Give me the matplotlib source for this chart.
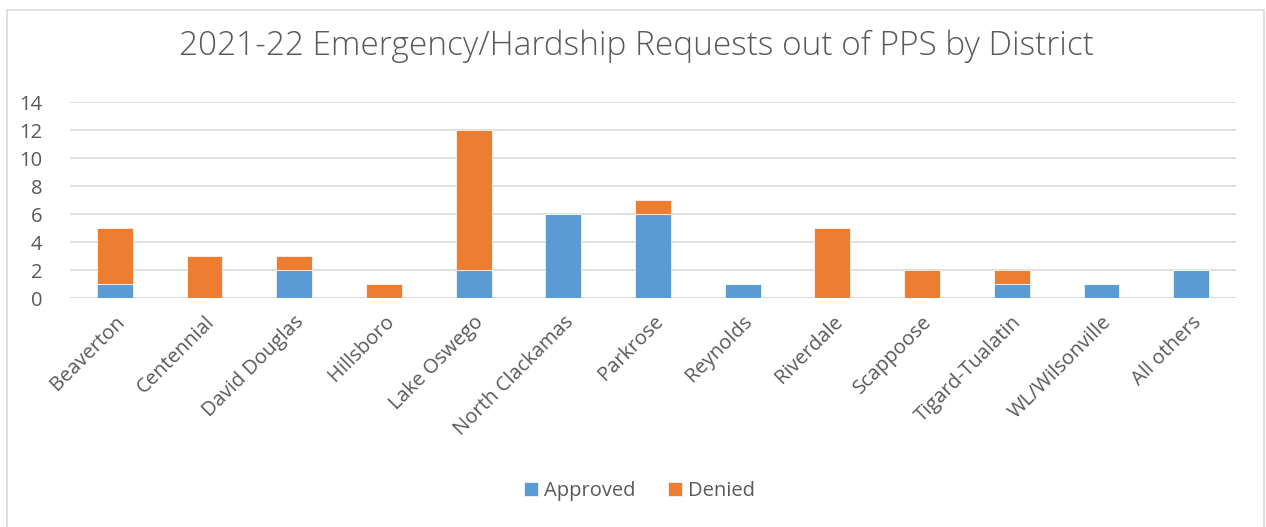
import matplotlib
matplotlib.use('Agg')
import matplotlib.pyplot as plt
import matplotlib.patches as patches
import numpy as np

plt.rcParams['font.family'] = ['Open Sans', 'DejaVu Sans']

# data
districts = ['Beaverton', 'Centennial', 'David Douglas', 'Hillsboro', 'Lake Oswego',
             'North Clackamas', 'Parkrose', 'Reynolds', 'Riverdale', 'Scappoose',
             'Tigard-Tualatin', 'WL/Wilsonville', 'All others']
approved = [1, 0, 2, 0, 2, 6, 6, 1, 0, 0, 1, 1, 2]
denied = [4, 3, 1, 1, 10, 0, 1, 0, 5, 2, 1, 0, 0]
yticks = [0, 2, 4, 6, 8, 10, 12, 14]

BLUE = '#5B9BD5'
ORANGE = '#ED7D31'
TXT = '#595959'
GRID = '#D9D9D9'

fig = plt.figure(figsize=(12.66, 5.27), dpi=100)
fig.patch.set_facecolor('white')

# outer chart border
fig.patches.append(patches.Rectangle((7 / 1266, -0.01), 1257 / 1266, 1 - 10 / 527 + 0.01,
                                     transform=fig.transFigure, fill=False,
                                     edgecolor='#D9D9D9', linewidth=1.2))

ax = fig.add_axes([70 / 1266, 1 - 298 / 527, (1236 - 70) / 1266, (298 - 102) / 527])
x = np.arange(len(districts))
ax.bar(x, approved, width=0.4, color=BLUE, label='Approved', edgecolor='white', linewidth=0.5, zorder=3)
ax.bar(x, denied, width=0.4, bottom=approved, color=ORANGE, label='Denied',
       edgecolor='white', linewidth=0.5, zorder=3)

ax.set_xlim(-0.5, len(districts) - 0.5)
ax.set_ylim(0, 14)
ax.set_yticks(yticks)
ax.yaxis.grid(True, color=GRID, linewidth=1.2, zorder=0)
for s in ax.spines.values():
    s.set_visible(False)
ax.axhline(0, color=GRID, linewidth=1.2, zorder=2)
ax.tick_params(axis='both', length=0, colors=TXT, labelsize=14.5)
ax.tick_params(axis='y', pad=20)
ax.set_xticks(x)
ax.set_xticklabels(districts, rotation=45, ha='right', va='top', rotation_mode='anchor')
ax.tick_params(axis='x', pad=10)

fig.text(0.503, 0.912, '2021-22 Emergency/Hardship Requests out of PPS by District',
         ha='center', va='center', fontsize=24, color=TXT, fontweight='light')

fig.legend(loc='center', bbox_to_anchor=(0.505, 0.068), ncol=2, frameon=False,
           fontsize=14.5, labelcolor=TXT, handlelength=0.7, handleheight=0.7,
           handletextpad=0.3, columnspacing=1.6)

plt.savefig('out.png', dpi=100, facecolor='white')
